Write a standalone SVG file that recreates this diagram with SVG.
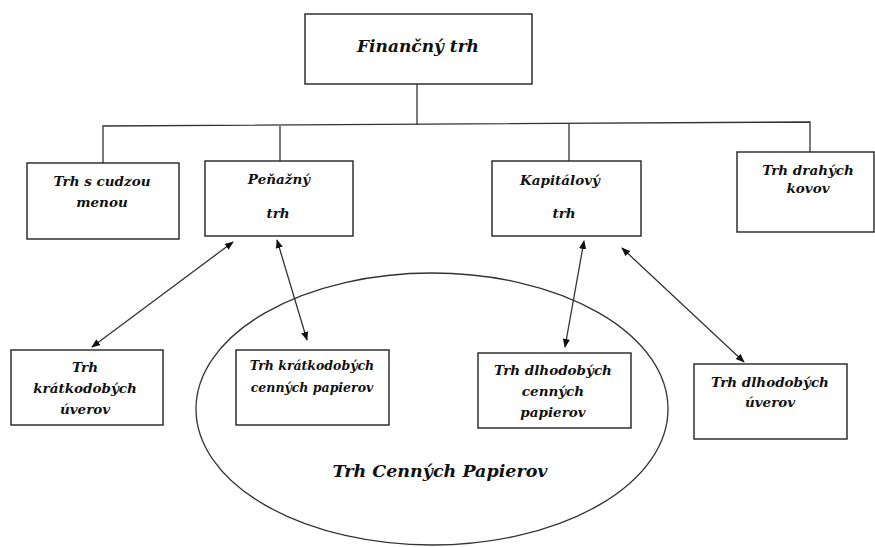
<svg xmlns="http://www.w3.org/2000/svg" width="875" height="547" viewBox="0 0 875 547">
<style>
.box{fill:#fff;stroke:#222;stroke-width:1.4}
.ln{fill:none;stroke:#333;stroke-width:1.3}
.t{font-family:"DejaVu Serif",serif;font-weight:bold;font-style:italic;fill:#111;text-anchor:middle}
.s15{font-size:13.5px}
.s14{font-size:12.5px}
</style>
<defs>
<marker id="ah" viewBox="0 0 10 10" refX="9" refY="5" markerWidth="9" markerHeight="9" markerUnits="userSpaceOnUse" orient="auto-start-reverse">
<path d="M0,1 L10,5 L0,9 z" fill="#111"/>
</marker>
</defs>
<rect width="875" height="547" fill="#fff"/>
<g id="connectors">
<polyline class="ln" points="417,84 417,125"/>
<polyline class="ln" points="103,163 103,126 810,122 810,152"/>
<line class="ln" x1="280" y1="126" x2="280" y2="161"/>
<line class="ln" x1="569" y1="124" x2="569" y2="161"/>
<line class="ln" x1="233" y1="242" x2="92" y2="347" marker-start="url(#ah)" marker-end="url(#ah)"/>
<line class="ln" x1="277" y1="240" x2="307" y2="340" marker-start="url(#ah)" marker-end="url(#ah)"/>
<line class="ln" x1="584" y1="241" x2="565" y2="347" marker-start="url(#ah)" marker-end="url(#ah)"/>
<line class="ln" x1="622" y1="248" x2="744" y2="362" marker-start="url(#ah)" marker-end="url(#ah)"/>
</g>
<g id="trh-cennych-papierov">
<ellipse cx="432" cy="409" rx="236" ry="136" class="ln"/>
<text class="t" x="440" y="477" font-size="17.5">Trh Cenných Papierov</text>
</g>
<g id="financny-trh">
<rect class="box" x="305" y="14" width="227" height="70"/>
<text class="t" x="418" y="52" font-size="17">Finančný trh</text>
</g>
<g id="trh-s-cudzou-menou">
<rect class="box" x="27" y="163" width="152" height="76"/>
<text class="t s15" x="102" y="186">Trh s cudzou</text>
<text class="t s15" x="102" y="207">menou</text>
</g>
<g id="penazny-trh">
<rect class="box" x="205" y="161" width="148" height="75"/>
<text class="t s15" x="279" y="184">Peňažný</text>
<text class="t s15" x="278" y="218">trh</text>
</g>
<g id="kapitalovy-trh">
<rect class="box" x="492" y="161" width="149" height="75"/>
<text class="t s15" x="560" y="185">Kapitálový</text>
<text class="t s15" x="564" y="218">trh</text>
</g>
<g id="trh-drahych-kovov">
<rect class="box" x="737" y="152" width="137" height="80"/>
<text class="t s15" x="808" y="175">Trh drahých</text>
<text class="t s15" x="808" y="193">kovov</text>
</g>
<g id="trh-kratkodobych-uverov">
<rect class="box" x="11" y="350" width="152" height="75"/>
<text class="t s15" x="85" y="372">Trh</text>
<text class="t s15" x="85" y="393">krátkodobých</text>
<text class="t s15" x="85" y="414">úverov</text>
</g>
<g id="trh-kratkodobych-cennych-papierov">
<rect class="box" x="236" y="350" width="153" height="75"/>
<text class="t s14" x="312" y="370">Trh krátkodobých</text>
<text class="t s14" x="312" y="392">cenných papierov</text>
</g>
<g id="trh-dlhodobych-cennych-papierov">
<rect class="box" x="478" y="353" width="153" height="75"/>
<text class="t s15" x="553" y="375">Trh dlhodobých</text>
<text class="t s15" x="553" y="396">cenných</text>
<text class="t s15" x="553" y="417">papierov</text>
</g>
<g id="trh-dlhodobych-uverov">
<rect class="box" x="694" y="364" width="153" height="75"/>
<text class="t s15" x="770" y="387">Trh dlhodobých</text>
<text class="t s15" x="770" y="407">úverov</text>
</g>
</svg>
